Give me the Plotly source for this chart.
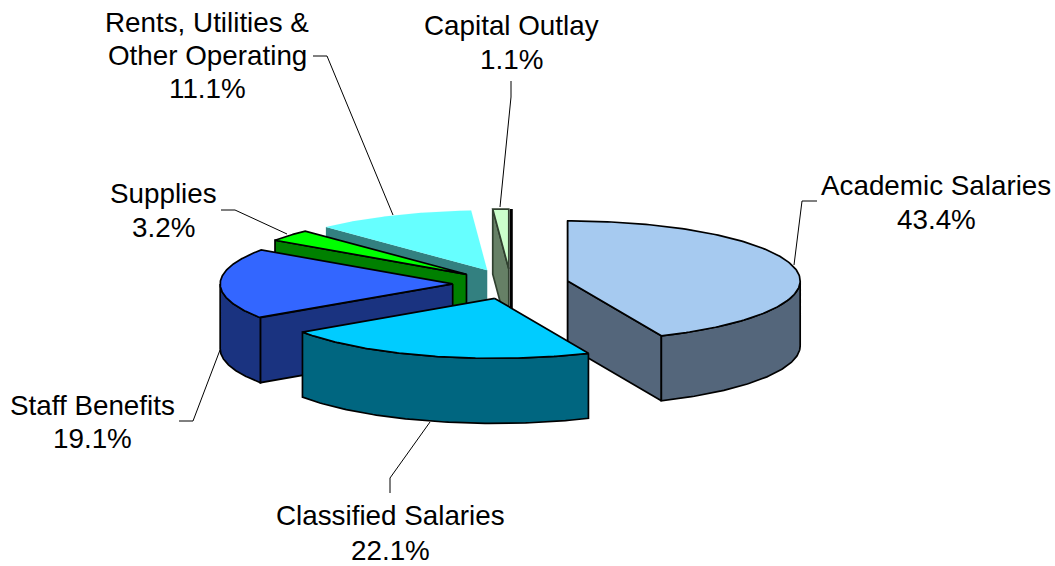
import numpy as np
import plotly.graph_objects as go

# --- data ---
categories = ["Academic Salaries", "Classified Salaries", "Staff Benefits",
              "Supplies", "Rents, Utilities &\nOther Operating", "Capital Outlay"]
values = [43.4, 22.1, 19.1, 3.2, 11.1, 1.1]
top_colors = ["#A6CAF0", "#00CCFF", "#3366FF", "#00FF00", "#66FFFF", "#CCFFCC"]
side_colors = ["#54667B", "#006680", "#1A3380", "#008000", "#338080", "#668066"]
outline_colors = ["black", "black", "black", "black", None, "#30402F"]

# --- pie geometry (pixels of a 1055x566 plot area) ---
CX, CY = 510.8, 284.0
A, B = 232.5, 60.0
DEPTH = 65.0
EXPLODE = 0.25
LW = 1.7

# label line centres and leader lines per category: (x, [y per line]), leader points
label_pos = [(936, [185, 219]), (390, [515, 550]), (92, [405, 438]),
             (163, [193, 227]), (207, [22, 55, 88]), (511, [25, 59])]
leaders = [[(794, 265), (802, 201), (817, 201)],
           [(430, 422), (390, 478), (390, 493)],
           [(220, 350), (193, 421), (179, 421)],
           [(287, 234), (235, 210), (221, 210)],
           [(393, 215), (327, 56), (313, 56)],
           [(500, 207), (511, 97), (511, 81)]]


def rim(th, ax, ay):
    return ax + A * np.sin(th), ay - B * np.cos(th)


fig = go.Figure()


def poly(xs, ys, fill, line):
    fig.add_trace(go.Scatter(
        x=list(xs), y=list(ys), mode="lines", fill="toself", fillcolor=fill,
        line=dict(color=line if line else fill, width=LW if line else 0.1),
        hoverinfo="skip", showlegend=False))


# slice angles come from the values
ends = np.cumsum(values) / sum(values) * 2 * np.pi
starts = np.concatenate([[0], ends[:-1]])
slices = []
for i in range(len(values)):
    s, e = starts[i], ends[i]
    m = (s + e) / 2
    ax = CX + EXPLODE * A * np.sin(m)
    ay = CY - EXPLODE * B * np.cos(m)
    slices.append((ay, i, s, e, ax))

# painter's algorithm: back slices first
for ay, i, s, e, ax in sorted(slices, key=lambda t: t[0]):
    fill, side, line = top_colors[i], side_colors[i], outline_colors[i]
    # cut faces
    for th, vis in ((s, np.sin(s) <= 1e-6), (e, np.sin(e) > 0)):
        if vis:
            rx, ry = rim(th, ax, ay)
            poly([ax, rx, rx, ax, ax], [ay, ry, ry + DEPTH, ay + DEPTH, ay], side, line)
    # outer wall: only the part of the rim facing the viewer
    lo, hi = max(s, np.pi / 2), min(e, 3 * np.pi / 2)
    if lo < hi:
        t = np.linspace(lo, hi, 80)
        rx, ry = rim(t, ax, ay)
        poly(np.r_[rx, rx[::-1], rx[0]], np.r_[ry, ry[::-1] + DEPTH, ry[0]], side, line)
    # top face
    t = np.linspace(s, e, 160)
    rx, ry = rim(t, ax, ay)
    poly(np.r_[ax, rx, ax], np.r_[ay, ry, ay], fill, line)
    # heavy dark edge on the thin last slice
    if i == len(values) - 1:
        fig.add_trace(go.Scatter(x=[ax + 2.5, ax + 2.5], y=[ay - B, ay + 42], mode="lines",
                                 line=dict(color="black", width=3),
                                 hoverinfo="skip", showlegend=False))

# leader lines
for pts in leaders:
    fig.add_trace(go.Scatter(x=[p[0] for p in pts], y=[p[1] for p in pts], mode="lines",
                             line=dict(color="black", width=1), hoverinfo="skip", showlegend=False))

# labels
for name, v, (lx, lys) in zip(categories, values, label_pos):
    lines = name.split("\n") + [f"{v:.1f}%"]
    for txt, ly in zip(lines, lys):
        fig.add_annotation(x=lx, y=ly, text=txt, showarrow=False, xanchor="center", yanchor="middle",
                           font=dict(family="Liberation Sans, Arial, sans-serif", size=27.8, color="black"))

fig.update_layout(
    width=1055, height=566, margin=dict(l=0, r=0, t=0, b=0, pad=0),
    paper_bgcolor="white", plot_bgcolor="white", showlegend=False,
    xaxis=dict(range=[0, 1055], visible=False, fixedrange=True),
    yaxis=dict(range=[566, 0], visible=False, fixedrange=True),
)
fig.write_html("out.html", config={"displayModeBar": False},
               post_script="document.body.style.margin='0';document.documentElement.style.overflow='hidden';")
